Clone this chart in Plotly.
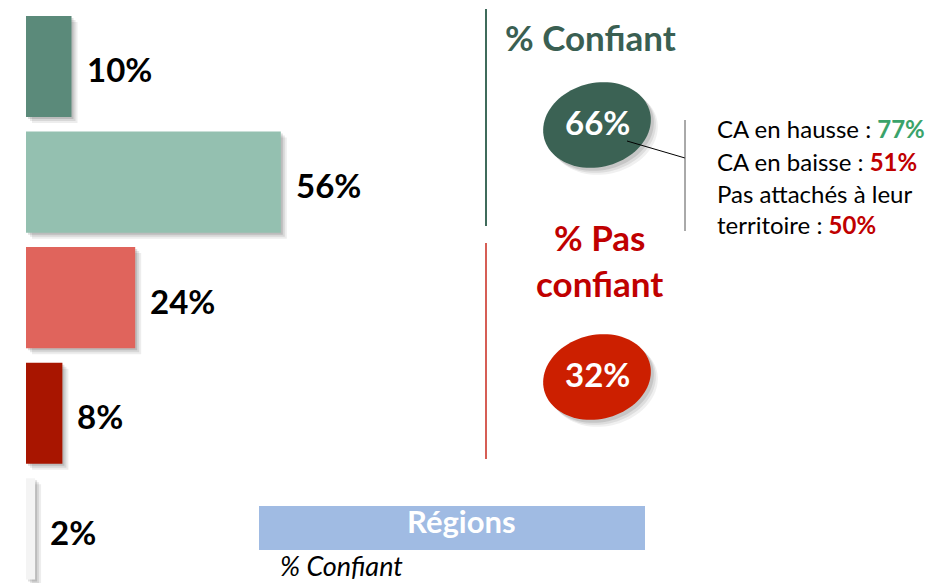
import numpy as np
import plotly.graph_objects as go

# ---------------- data ----------------
categories = ["Très confiant", "Plutôt confiant", "Plutôt pas confiant",
              "Pas du tout confiant", "Ne sait pas"]
values = [10, 56, 24, 8, 2]
value_labels = ["10%", "56%", "24%", "8%", "2%"]
bar_colors = ["#5b8a7a", "#94c0b0", "#e0645c", "#a81500", "#f4f4f4"]

confiant_title = "% Confiant"
confiant_total = "66%"
pas_confiant_title = "% Pas<br>confiant"
pas_confiant_total = "32%"
detail_texts = ["CA en hausse : ", "CA en baisse : ", "Pas attachés à leur", "territoire : "]
detail_values = ["77%", "51%", "", "50%"]
detail_colors = ["#3aa36a", "#c00000", "#c00000", "#c00000"]
header_text = "Régions"
sub_text = "% Confiant"

# ---------------- layout helpers ----------------
W, H = 937, 583
FONT = "Lato"


def px(x):
    return x / W


def py(y):
    return 1 - y / H


def ellipse_path(cx, cy, rx, ry, ang_deg, n=90):
    t = np.linspace(0, 2 * np.pi, n, endpoint=False)
    a = np.radians(ang_deg)
    x = cx + rx * np.cos(t) * np.cos(a) - ry * np.sin(t) * np.sin(a)
    y = cy + rx * np.cos(t) * np.sin(a) + ry * np.sin(t) * np.cos(a)
    pts = [f"{px(xx):.5f},{py(yy):.5f}" for xx, yy in zip(x, y)]
    return "M " + " L ".join(pts) + " Z"


PX_PER_PCT = 4.55
PX_PER_BAND = 115.6
BAR_W = 0.875

fig = go.Figure()

# bar shadows
for k, a in [(6, 0.07), (4, 0.09), (2, 0.12)]:
    fig.add_trace(go.Bar(
        y=categories, x=values, orientation="h",
        base=k / PX_PER_PCT, width=BAR_W,
        offset=-BAR_W / 2 + k / PX_PER_BAND,
        marker=dict(color=f"rgba(0,0,0,{a})", line=dict(width=0)),
        hoverinfo="skip", showlegend=False,
    ))

fig.add_trace(go.Bar(
    y=categories, x=values, orientation="h", width=BAR_W,
    marker=dict(color=bar_colors, line=dict(width=0)),
    showlegend=False,
))

annotations = []
for c, v, lab in zip(categories, values, value_labels):
    annotations.append(dict(
        x=v, y=c, xref="x", yref="y", text=f"<b>{lab}</b>",
        showarrow=False, xanchor="left", yanchor="middle",
        xshift=13, yshift=-3,
        font=dict(family=FONT, size=33, color="#000000"),
    ))

shapes = []
# vertical separators
shapes.append(dict(type="line", xref="paper", yref="paper",
                   x0=px(486), x1=px(486), y0=py(9), y1=py(226),
                   line=dict(color="#3f6b5b", width=2)))
shapes.append(dict(type="line", xref="paper", yref="paper",
                   x0=px(486), x1=px(486), y0=py(243), y1=py(459),
                   line=dict(color="#c8281c", width=1.5)))

# ellipses with shadows
for cx, cy, col in [(597, 125, "#3b6254"), (597, 377, "#cc1f00")]:
    for k, a in [(7, 0.06), (5, 0.08), (3, 0.10)]:
        shapes.append(dict(type="path", xref="paper", yref="paper",
                           path=ellipse_path(cx + k, cy + k, 54.5, 42, -14),
                           fillcolor=f"rgba(0,0,0,{a})", line=dict(width=0)))
    shapes.append(dict(type="path", xref="paper", yref="paper",
                       path=ellipse_path(cx, cy, 54.5, 42, -14),
                       fillcolor=col, line=dict(width=0)))

# connector
shapes.append(dict(type="line", xref="paper", yref="paper",
                   x0=px(627), x1=px(685), y0=py(141), y1=py(158),
                   line=dict(color="#000000", width=1)))
shapes.append(dict(type="line", xref="paper", yref="paper",
                   x0=px(685), x1=px(685), y0=py(120), y1=py(231),
                   line=dict(color="#555555", width=1)))

# Régions header box
shapes.append(dict(type="rect", xref="paper", yref="paper",
                   x0=px(259), x1=px(645), y0=py(506), y1=py(550),
                   fillcolor="#a0bbe3", line=dict(width=0)))

annotations += [
    dict(x=px(590), y=py(37), xref="paper", yref="paper", text=f"<b>{confiant_title}</b>",
         showarrow=False, xanchor="center", yanchor="middle",
         font=dict(family=FONT, size=35, color="#3a5f52")),
    dict(x=px(597), y=py(122), xref="paper", yref="paper", text=f"<b>{confiant_total}</b>",
         showarrow=False, xanchor="center", yanchor="middle",
         font=dict(family=FONT, size=33, color="#ffffff")),
    dict(x=px(599), y=py(260), xref="paper", yref="paper", text=f"<b>{pas_confiant_title}</b>",
         showarrow=False, xanchor="center", yanchor="middle",
         font=dict(family=FONT, size=35, color="#c00000")),
    dict(x=px(597), y=py(374), xref="paper", yref="paper", text=f"<b>{pas_confiant_total}</b>",
         showarrow=False, xanchor="center", yanchor="middle",
         font=dict(family=FONT, size=33, color="#ffffff")),
    dict(x=px(461), y=py(521), xref="paper", yref="paper", text=f"<b>{header_text}</b>",
         showarrow=False, xanchor="center", yanchor="middle",
         font=dict(family=FONT, size=31, color="#ffffff")),
    dict(x=px(278), y=py(565), xref="paper", yref="paper", text=f"<i>{sub_text}</i>",
         showarrow=False, xanchor="left", yanchor="middle",
         font=dict(family=FONT, size=27, color="#000000")),
]

for i, (t, v, c) in enumerate(zip(detail_texts, detail_values, detail_colors)):
    txt = t + (f"<span style='color:{c}'><b>{v}</b></span>" if v else "")
    annotations.append(dict(
        x=px(715), y=py([129, 161, 193, 225][i]), xref="paper", yref="paper",
        text=txt, showarrow=False, xanchor="left", yanchor="middle",
        font=dict(family=FONT, size=24, color="#000000")))

fig.update_layout(
    width=W, height=H,
    margin=dict(l=0, r=0, t=0, b=0),
    paper_bgcolor="#ffffff", plot_bgcolor="#ffffff",
    barmode="overlay",
    showlegend=False,
    xaxis=dict(domain=[px(26), px(26) + 100 * PX_PER_PCT / W], range=[0, 100],
               visible=False, fixedrange=True),
    yaxis=dict(domain=[0, 1], range=[-0.575 + H / PX_PER_BAND, -0.575],
               visible=False, type="category", categoryorder="array",
               categoryarray=categories, fixedrange=True),
    shapes=shapes,
    annotations=annotations,
)

fig.write_html("out.html", config={"displayModeBar": False},
               post_script="document.body.style.margin='0';document.body.style.overflow='hidden';")
